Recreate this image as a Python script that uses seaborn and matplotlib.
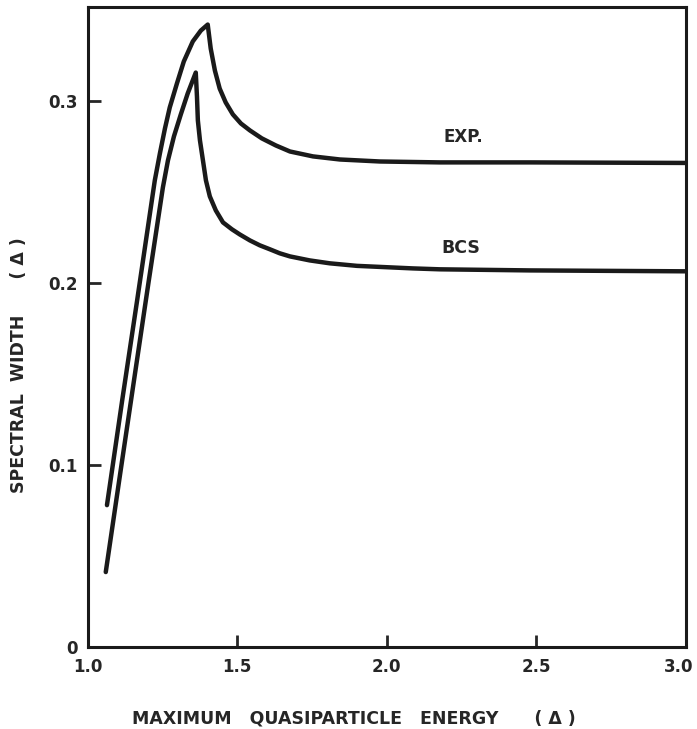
import numpy as np
import pandas as pd
import matplotlib
matplotlib.use("Agg")
import matplotlib.pyplot as plt
import matplotlib.transforms as mtransforms
import seaborn as sns

# Curvas (energía máxima en unidades de Delta)
exp_energy = [1.064, 1.115, 1.165, 1.224, 1.241, 1.258, 1.274, 1.298, 1.321,
              1.351, 1.378, 1.401, 1.411, 1.425, 1.441, 1.461, 1.485, 1.512,
              1.542, 1.582, 1.629, 1.676, 1.753, 1.843, 1.977, 2.177, 2.478, 3.000]
exp_width = [0.0780, 0.1357, 0.1907, 0.2566, 0.2714, 0.2852, 0.2967, 0.3099, 0.3220,
             0.3330, 0.3390, 0.3423, 0.3291, 0.3170, 0.3071, 0.2995, 0.2929, 0.2879,
             0.2841, 0.2797, 0.2758, 0.2725, 0.2698, 0.2681, 0.2670, 0.2665, 0.2665, 0.2662]

bcs_energy = [1.060, 1.110, 1.157, 1.204, 1.251, 1.268, 1.288, 1.311, 1.334, 1.361,
              1.365, 1.368, 1.375, 1.385, 1.395, 1.408, 1.428, 1.452, 1.482,
              1.508, 1.542, 1.575, 1.609, 1.642, 1.676, 1.742, 1.809, 1.900,
              2.087, 2.177, 2.478, 3.000]
bcs_width = [0.0412, 0.0973, 0.1495, 0.2016, 0.2527, 0.2676, 0.2808, 0.2929, 0.3044, 0.3159,
             0.3027, 0.2896, 0.2786, 0.2676, 0.2566, 0.2478, 0.2401, 0.2335, 0.2297,
             0.2269, 0.2236, 0.2209, 0.2187, 0.2165, 0.2148, 0.2126, 0.2110, 0.2096,
             0.2082, 0.2077, 0.2071, 0.2066]

x_ticks = [1.0, 1.5, 2.0, 2.5, 3.0]
x_tick_labels = ["1.0", "1.5", "2.0", "2.5", "3.0"]
y_ticks = [0, 0.1, 0.2, 0.3]
y_tick_labels = ["0", "0.1", "0.2", "0.3"]

df = pd.concat([
    pd.DataFrame({"energy": exp_energy, "width": exp_width, "curve": "EXP."}),
    pd.DataFrame({"energy": bcs_energy, "width": bcs_width, "curve": "BCS"}),
])

sns.set_style("ticks")
plt.rcParams["font.family"] = ["DejaVu Sans"]

fig = plt.figure(figsize=(6.97, 7.29), dpi=100)
ax = fig.add_axes([0.126, 0.1125, 0.858, 0.878])

sns.lineplot(data=df, x="energy", y="width", units="curve", estimator=None,
             sort=False, color="#1a1a1a", linewidth=3.2, ax=ax, legend=False)

ax.set_xlim(1.0, 3.0)
ax.set_ylim(0, 0.352)
ax.set_xticks(x_ticks)
ax.set_xticklabels(x_tick_labels, fontsize=12, fontweight="bold")
ax.set_yticks(y_ticks)
ax.set_yticklabels(y_tick_labels, fontsize=12, fontweight="bold")
ax.tick_params(direction="in", length=9, width=2)
ax.tick_params(axis="x", pad=8)
ax.tick_params(axis="y", pad=7)
for s in ax.spines.values():
    s.set_linewidth(2.2)
    s.set_color("#1a1a1a")

# "3.0" pegado al borde derecho: desplazarlo un poco
last = ax.get_xticklabels()[-1]
last.set_transform(last.get_transform() + mtransforms.ScaledTranslation(-7 / 100, 0, fig.dpi_scale_trans))

ax.text(2.19, 0.2775, "EXP.", fontsize=12, fontweight="bold")
ax.text(2.182, 0.2165, "BCS", fontsize=12.5, fontweight="bold")

ax.set_xlabel("MAXIMUM   QUASIPARTICLE   ENERGY      ( Δ )", fontsize=12.5,
              fontweight="bold")
ax.xaxis.set_label_coords(0.445, -0.098)
ax.set_ylabel("SPECTRAL  WIDTH      ( Δ )", fontsize=12.5, fontweight="bold")
ax.yaxis.set_label_coords(-0.1, 0.44)

fig.savefig("out.png", dpi=100)
plt.close(fig)
